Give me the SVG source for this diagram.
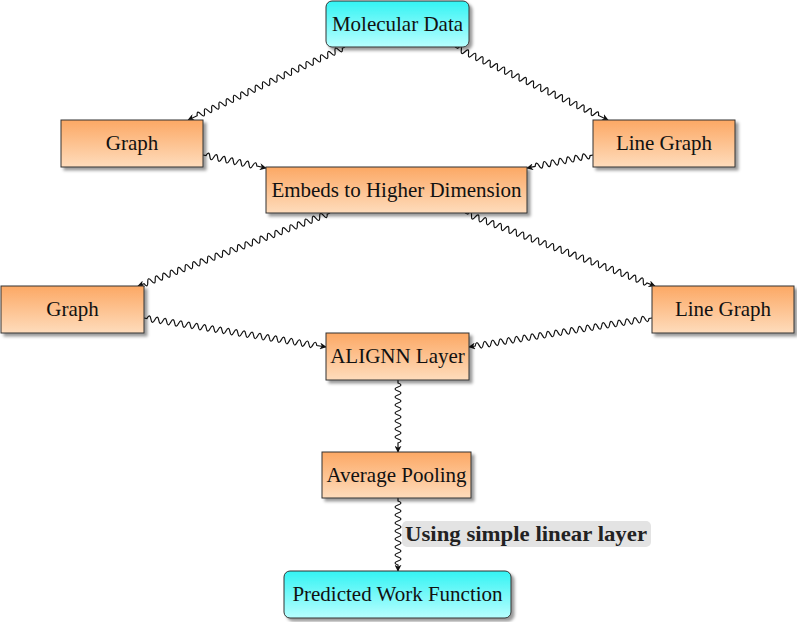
<svg xmlns="http://www.w3.org/2000/svg" width="797" height="622" viewBox="0 0 797 622">
<style>
.box{stroke:#333;stroke-width:1}
.t{font-family:"Liberation Serif","DejaVu Serif",serif;font-size:21px;fill:#111;text-anchor:middle;dominant-baseline:central}
.lab{font-family:"Liberation Serif","DejaVu Serif",serif;font-size:21px;font-weight:bold;fill:#222;dominant-baseline:central}
.snake{fill:none;stroke:#111;stroke-width:1.2;marker-end:url(#ah)}
</style>
<defs>
<linearGradient id="og" x1="0" y1="0" x2="0" y2="1"><stop offset="0" stop-color="#fca864"/><stop offset="1" stop-color="#fedcbc"/></linearGradient>
<linearGradient id="cg" x1="0" y1="0" x2="0" y2="1"><stop offset="0" stop-color="#33f3f3"/><stop offset="1" stop-color="#b8ffff"/></linearGradient>
<filter id="sh" x="-10%" y="-20%" width="130%" height="160%"><feDropShadow dx="3" dy="3" stdDeviation="1.8" flood-color="#000" flood-opacity="0.4"/></filter>
<marker id="ah" viewBox="0 0 10 10" refX="9" refY="5" markerWidth="7" markerHeight="7" markerUnits="userSpaceOnUse" orient="auto"><path d="M0,0 L10,5 L0,10 L3,5 Z" fill="#111"/></marker>
</defs>
<g id="connectors">
<path class="snake" transform="translate(345,47) rotate(155.06)" d="M0,0 l3,0 q2,-6 4,0 t4,0 t4,0 t4,0 t4,0 t4,0 t4,0 t4,0 t4,0 t4,0 t4,0 t4,0 t4,0 t4,0 t4,0 t4,0 t4,0 t4,0 t4,0 t4,0 t4,0 t4,0 t4,0 t4,0 t4,0 t4,0 t4,0 t4,0 t4,0 t4,0 t4,0 t4,0 t4,0 t4,0 t4,0 t4,0 t4,0 t4,0 t4,0 t4,0 L173,0"/>
<path class="snake" transform="translate(455,47) rotate(25.5)" d="M0,0 l3,0 q2,-6 4,0 t4,0 t4,0 t4,0 t4,0 t4,0 t4,0 t4,0 t4,0 t4,0 t4,0 t4,0 t4,0 t4,0 t4,0 t4,0 t4,0 t4,0 t4,0 t4,0 t4,0 t4,0 t4,0 t4,0 t4,0 t4,0 t4,0 t4,0 t4,0 t4,0 t4,0 t4,0 t4,0 t4,0 t4,0 t4,0 t4,0 t4,0 t4,0 L169.5,0"/>
<path class="snake" transform="translate(203,155) rotate(11.66)" d="M0,0 l3,0 q2,-6 4,0 t4,0 t4,0 t4,0 t4,0 t4,0 t4,0 t4,0 t4,0 t4,0 t4,0 t4,0 t4,0 L64.3,0"/>
<path class="snake" transform="translate(593,155) rotate(168.86)" d="M0,0 l3,0 q2,-6 4,0 t4,0 t4,0 t4,0 t4,0 t4,0 t4,0 t4,0 t4,0 t4,0 t4,0 t4,0 t4,0 t4,0 L67.3,0"/>
<path class="snake" transform="translate(330,213) rotate(159.18)" d="M0,0 l3,0 q2,-6 4,0 t4,0 t4,0 t4,0 t4,0 t4,0 t4,0 t4,0 t4,0 t4,0 t4,0 t4,0 t4,0 t4,0 t4,0 t4,0 t4,0 t4,0 t4,0 t4,0 t4,0 t4,0 t4,0 t4,0 t4,0 t4,0 t4,0 t4,0 t4,0 t4,0 t4,0 t4,0 t4,0 t4,0 t4,0 t4,0 t4,0 t4,0 t4,0 t4,0 t4,0 t4,0 t4,0 t4,0 t4,0 t4,0 t4,0 t4,0 t4,0 L205.4,0"/>
<path class="snake" transform="translate(465,213) rotate(21.02)" d="M0,0 l3,0 q2,-6 4,0 t4,0 t4,0 t4,0 t4,0 t4,0 t4,0 t4,0 t4,0 t4,0 t4,0 t4,0 t4,0 t4,0 t4,0 t4,0 t4,0 t4,0 t4,0 t4,0 t4,0 t4,0 t4,0 t4,0 t4,0 t4,0 t4,0 t4,0 t4,0 t4,0 t4,0 t4,0 t4,0 t4,0 t4,0 t4,0 t4,0 t4,0 t4,0 t4,0 t4,0 t4,0 t4,0 t4,0 t4,0 t4,0 t4,0 t4,0 L203.5,0"/>
<path class="snake" transform="translate(144,318) rotate(9.05)" d="M0,0 l3,0 q2,-6 4,0 t4,0 t4,0 t4,0 t4,0 t4,0 t4,0 t4,0 t4,0 t4,0 t4,0 t4,0 t4,0 t4,0 t4,0 t4,0 t4,0 t4,0 t4,0 t4,0 t4,0 t4,0 t4,0 t4,0 t4,0 t4,0 t4,0 t4,0 t4,0 t4,0 t4,0 t4,0 t4,0 t4,0 t4,0 t4,0 t4,0 t4,0 t4,0 t4,0 t4,0 t4,0 t4,0 L184.3,0"/>
<path class="snake" transform="translate(652,318) rotate(171.0)" d="M0,0 l3,0 q2,-6 4,0 t4,0 t4,0 t4,0 t4,0 t4,0 t4,0 t4,0 t4,0 t4,0 t4,0 t4,0 t4,0 t4,0 t4,0 t4,0 t4,0 t4,0 t4,0 t4,0 t4,0 t4,0 t4,0 t4,0 t4,0 t4,0 t4,0 t4,0 t4,0 t4,0 t4,0 t4,0 t4,0 t4,0 t4,0 t4,0 t4,0 t4,0 t4,0 t4,0 t4,0 t4,0 t4,0 t4,0 L185.3,0"/>
<path class="snake" transform="translate(398,380) rotate(90)" d="M0,0 l3,0 q2,-6 4,0 t4,0 t4,0 t4,0 t4,0 t4,0 t4,0 t4,0 t4,0 t4,0 t4,0 t4,0 t4,0 t4,0 t4,0 L72,0"/>
<path class="snake" transform="translate(398,498) rotate(90)" d="M0,0 l3,0 q2,-6 4,0 t4,0 t4,0 t4,0 t4,0 t4,0 t4,0 t4,0 t4,0 t4,0 t4,0 t4,0 t4,0 t4,0 t4,0 t4,0 L73,0"/>
</g>
<g id="label">
<rect x="402" y="521" width="249" height="26" rx="5" fill="#e3e3e3"/>
<text class="lab" x="405" y="533.5" textLength="242" lengthAdjust="spacingAndGlyphs">Using simple linear layer</text>
</g>
<g id="n-molecular"><rect class="box" x="326" y="1" width="143" height="46" rx="6" fill="url(#cg)" filter="url(#sh)"/><text class="t" x="397.5" y="24">Molecular Data</text></g>
<g id="n-graph1"><rect class="box" x="61" y="120" width="142" height="47" fill="url(#og)" filter="url(#sh)"/><text class="t" x="132" y="143">Graph</text></g>
<g id="n-linegraph1"><rect class="box" x="593" y="120" width="142" height="47" fill="url(#og)" filter="url(#sh)"/><text class="t" x="664" y="143">Line Graph</text></g>
<g id="n-embeds"><rect class="box" x="266" y="167" width="261" height="46" fill="url(#og)" filter="url(#sh)"/><text class="t" x="396.5" y="190">Embeds to Higher Dimension</text></g>
<g id="n-graph2"><rect class="box" x="1" y="286" width="143" height="47" fill="url(#og)" filter="url(#sh)"/><text class="t" x="72.5" y="309">Graph</text></g>
<g id="n-linegraph2"><rect class="box" x="652" y="286" width="142" height="47" fill="url(#og)" filter="url(#sh)"/><text class="t" x="723" y="309">Line Graph</text></g>
<g id="n-alignn"><rect class="box" x="326" y="333" width="143" height="47" fill="url(#og)" filter="url(#sh)"/><text class="t" x="397.5" y="356">ALIGNN Layer</text></g>
<g id="n-pooling"><rect class="box" x="322" y="452" width="149" height="46" fill="url(#og)" filter="url(#sh)"/><text class="t" x="396.5" y="475">Average Pooling</text></g>
<g id="n-predicted"><rect class="box" x="284" y="571" width="227" height="47" rx="6" fill="url(#cg)" filter="url(#sh)"/><text class="t" x="397.5" y="594">Predicted Work Function</text></g>
</svg>
